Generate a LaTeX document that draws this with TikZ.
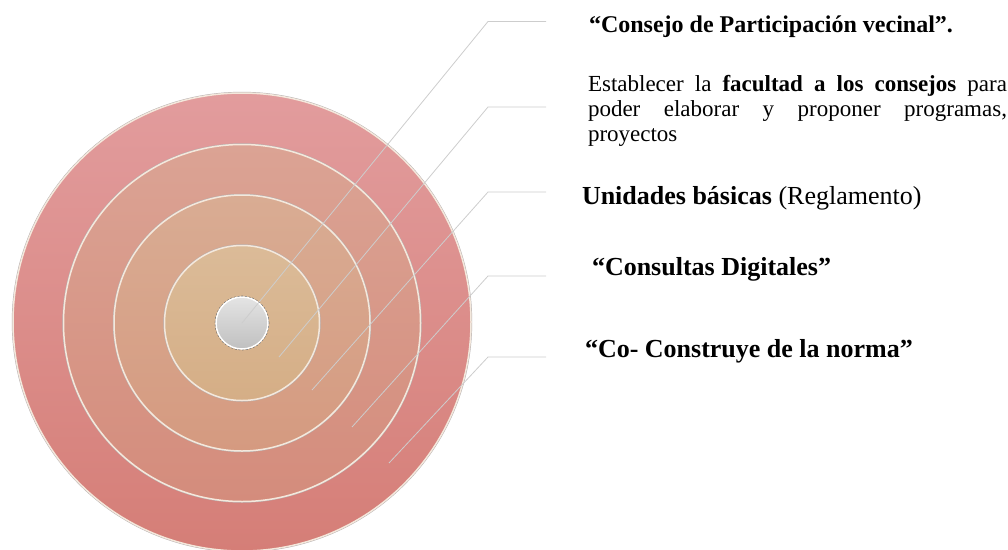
\documentclass[tikz,border=0pt]{standalone}
\usepackage{fontspec}
\setmainfont{Liberation Serif}

\definecolor{ringline}{RGB}{244,232,220}
\definecolor{rimgray}{RGB}{150,140,140}
\definecolor{leadgray}{RGB}{205,205,205}
\definecolor{outtop}{RGB}{226,156,157}
\definecolor{outbot}{RGB}{213,126,119}
\definecolor{twotop}{RGB}{219,163,148}
\definecolor{twobot}{RGB}{212,140,124}
\definecolor{thrtop}{RGB}{217,172,147}
\definecolor{thrbot}{RGB}{213,154,128}
\definecolor{fourtop}{RGB}{219,187,152}
\definecolor{fourbot}{RGB}{213,174,134}
\definecolor{coretop}{RGB}{228,228,228}
\definecolor{corebot}{RGB}{192,192,192}

\begin{document}
\begin{tikzpicture}[x=1pt,y=-1pt,semithick]
  \tikzstyle{every node}=[inner sep=0pt,outer sep=0pt]
  \tikzstyle{disc}=[circle,draw=ringline,line width=1.5pt,
                    preaction={draw=rimgray!70,line width=2.4pt}]
  \tikzstyle{core}=[circle,draw=white,line width=1.5pt,top color=coretop,bottom color=corebot,
                    preaction={draw=black!60,line width=2.6pt,dash pattern=on 2pt off 1.6pt}]
  \tikzstyle{lead}=[draw=leadgray,line width=0.8pt]
  \tikzstyle{headsmall}=[anchor=base west,font=\fontsize{24}{28}\selectfont\bfseries]
  \tikzstyle{headtext}=[anchor=base west,font=\fontsize{26}{30}\selectfont]
  \tikzstyle{bodytext}=[anchor=north west,text width=419pt,align=justify,
                        font=\fontsize{23}{25}\selectfont]

  \useasboundingbox (0,0) rectangle (1008,549);

  % rings, from the outside in
  \node[disc,minimum size=458pt,top color=outtop,bottom color=outbot]   (R5) at (242,322) {};
  \node[disc,minimum size=357pt,top color=twotop,bottom color=twobot]   (R4) at (242,323) {};
  \node[disc,minimum size=256pt,top color=thrtop,bottom color=thrbot]   (R3) at (242,323) {};
  \node[disc,minimum size=155pt,top color=fourtop,bottom color=fourbot] (R2) at (242,323) {};
  \node[core,minimum size=52pt]                                        (R1) at (242,323) {};

  % ends of the leaders
  \coordinate (S2) at (279,357);
  \coordinate (S3) at (312,390);
  \coordinate (S4) at (352,427);
  \coordinate (S5) at (389,463);
  \coordinate (K1) at (488,21.5);  \coordinate (E1) at (546,21.5);
  \coordinate (K2) at (488,107);   \coordinate (E2) at (546,107);
  \coordinate (K3) at (488,192);   \coordinate (E3) at (546,192);
  \coordinate (K4) at (488,276);   \coordinate (E4) at (546,276);
  \coordinate (K5) at (488,357);   \coordinate (E5) at (546,357);

  \draw[lead] (R1.center) -- (K1) -- (E1);
  \draw[lead] (S2) -- (K2) -- (E2);
  \draw[lead] (S3) -- (K3) -- (E3);
  \draw[lead] (S4) -- (K4) -- (E4);
  \draw[lead] (S5) -- (K5) -- (E5);

  % texts
  \node[headsmall] (T1) at (589,32) {“Consejo de Participación vecinal”.};
  \node[bodytext]  (T2) at (588,75) {\noindent Establecer la \textbf{facultad a los consejos} para\linebreak
                                      poder elaborar y proponer programas,\linebreak proyectos};
  \node[headtext]  (T3) at (582,204) {\textbf{Unidades básicas} (Reglamento)};
  \node[headtext]  (T4) at (592,275) {\textbf{“Consultas Digitales”}};
  \node[headtext]  (T5) at (585,357) {\textbf{“Co- Construye de la norma”}};
\end{tikzpicture}
\end{document}
